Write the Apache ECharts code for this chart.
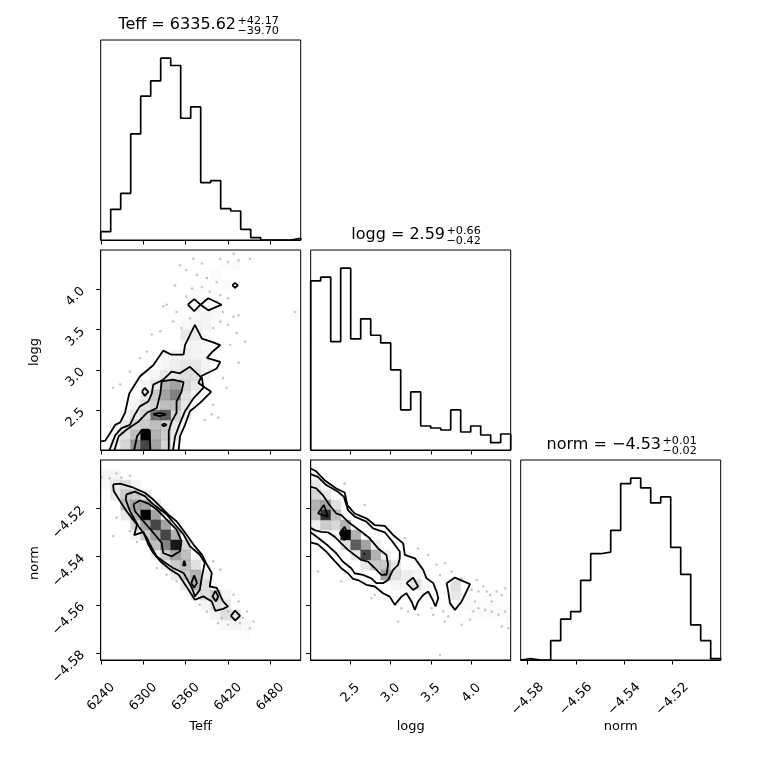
<!DOCTYPE html>
<html><head><meta charset="utf-8">
<script src="https://cdn.jsdelivr.net/npm/echarts@6.0.0/dist/echarts.min.js"></script>
<style>html,body{margin:0;padding:0;background:#fff}#c{width:760px;height:760px}</style>
</head><body><div id="c"></div>
<script>
// ---------- axis ranges and ticks ----------
const teffRange = [6239.5, 6523];
const loggRange = [2.009, 4.488];
const normRange = [-4.5829, -4.4999];
const teffTicks = [6240, 6300, 6360, 6420, 6480];
const loggTicks = [2.5, 3.0, 3.5, 4.0];
const normTicks = [-4.58, -4.56, -4.54, -4.52];

// ---------- titles ----------
const teffTitle = ['Teff = 6335.62', '+42.17', '\u221239.70'];
const loggTitle = ['logg = 2.59', '+0.66', '\u22120.42'];
const normTitle = ['norm = \u22124.53', '+0.01', '\u22120.02'];
const axisNames = ['Teff', 'logg', 'norm'];

// ---------- 1D histograms (20 bins each) ----------
const teffCounts = [25, 92, 140, 318, 431, 477, 545, 523, 365, 399, 172, 178, 94, 87, 32, 7, 0, 0, 0, 5];
const loggCounts = [507, 518, 325, 545, 333, 393, 344, 321, 240, 120, 174, 72, 66, 60, 120, 54, 72, 45, 22, 48];
const normCounts = [4, 0, 0, 58, 122, 145, 238, 318, 323, 388, 528, 544, 515, 470, 488, 337, 256, 105, 58, 4];

// ---------- Teff vs logg ----------
const tlDensity = [
[1,0,0.25],[2,0,0.4],[3,0,0.65],[4,0,0.85],[5,0,0.6],[6,0,0.4],[7,0,0.2],
[1,1,0.2],[2,1,0.35],[3,1,0.5],[4,1,1.0],[5,1,0.55],[6,1,0.45],[7,1,0.3],
[1,2,0.2],[2,2,0.3],[3,2,0.4],[4,2,0.45],[5,2,0.5],[6,2,0.45],[7,2,0.3],
[2,3,0.15],[3,3,0.3],[4,3,0.4],[5,3,0.75],[6,3,0.8],[7,3,0.4],[8,3,0.25],
[3,4,0.2],[4,4,0.35],[5,4,0.4],[6,4,0.5],[7,4,0.5],[8,4,0.3],
[4,5,0.3],[5,5,0.45],[6,5,0.6],[7,5,0.7],[8,5,0.35],[9,5,0.2],
[4,6,0.2],[5,6,0.3],[6,6,0.55],[7,6,0.6],[8,6,0.4],[9,6,0.3],
[5,7,0.2],[6,7,0.3],[7,7,0.3],[8,7,0.35],[9,7,0.35],[10,7,0.2],
[6,8,0.2],[7,8,0.25],[8,8,0.3],[9,8,0.3],[10,8,0.2],
[7,9,0.2],[8,9,0.25],[9,9,0.2],[10,9,0.2],
[8,10,0.2],[9,10,0.2],[10,10,0.15],
[8,11,0.3],[9,11,0.3],[10,11,0.15],
[8,12,0.15],[9,12,0.2],[10,12,0.2],
[9,13,0.15],[10,13,0.2],[11,13,0.15],[19,13,0.13],
[10,14,0.13],[9,15,0.13],[11,15,0.11],[10,16,0.11],[12,16,0.13],[11,17,0.13],[12,18,0.11],[13,18,0.13]
];
const tlContours = [
 [[6240,2.116],[6246,2.126],[6253,2.22],[6260,2.32],[6267,2.35],[6274,2.47],[6280,2.71],[6295,2.92],[6314,3.06],[6328,3.24],[6340,3.19],[6357,3.19],[6359,3.31],[6373,3.56],[6383,3.39],[6397,3.35],[6409,3.31],[6397,3.22],[6390,3.15],[6409,3.10],[6404,3.02],[6383,2.93],[6378,2.84],[6396,2.73],[6380,2.59],[6366,2.49],[6359,2.32],[6352,2.18],[6350,2.009]],
 [[6252,2.009],[6260,2.19],[6269,2.28],[6281,2.32],[6288,2.45],[6295,2.55],[6307,2.61],[6312,2.71],[6314,2.82],[6328,2.88],[6340,2.98],[6352,2.96],[6366,3.04],[6383,2.90],[6385,2.78],[6371,2.65],[6359,2.49],[6351,2.32],[6345,2.18],[6342,2.009]],
 [[6259,2.009],[6265,2.18],[6276,2.26],[6293,2.36],[6305,2.47],[6319,2.53],[6324,2.71],[6326,2.86],[6342,2.88],[6357,2.85],[6354,2.73],[6347,2.61],[6347,2.47],[6340,2.36],[6336,2.24],[6336,2.009]],
 [[6287,2.009],[6291,2.18],[6298,2.26],[6308,2.26],[6309,2.14],[6310,2.009]],
 [[6314,2.45],[6323,2.47],[6332,2.45],[6323,2.43],[6314,2.45]],
 [[6326,2.32],[6329,2.335],[6333,2.32],[6329,2.305],[6326,2.32]],
 [[6298,2.73],[6302,2.78],[6307,2.73],[6302,2.68],[6298,2.73]],
 [[6363,3.81],[6372,3.88],[6381,3.81],[6372,3.73],[6363,3.81]],
 [[6381,3.81],[6392,3.89],[6411,3.81],[6392,3.74],[6381,3.81]],
 [[6426,4.05],[6430,4.08],[6434,4.05],[6430,4.02],[6426,4.05]]
];
const tlPoints = [[6371,4.38],[6383,4.32],[6409,4.38],[6420,4.34],[6428,4.44],[6435,4.36],[6451,4.38],[6352,4.30],[6361,4.24],[6376,4.18],[6390,4.14],[6404,4.09],[6369,4.01],[6383,4.03],[6394,3.97],[6409,3.93],[6420,3.89],[6333,3.81],[6347,3.72],[6328,3.79],[6324,3.48],[6312,3.44],[6342,3.60],[6354,3.52],[6366,3.64],[6413,3.72],[6428,3.66],[6420,3.56],[6435,3.68],[6444,3.35],[6432,3.46],[6409,3.60],[6399,3.52],[6423,3.31],[6435,3.09],[6257,2.78],[6267,2.82],[6281,2.98],[6295,3.15],[6305,3.23],[6413,2.90],[6418,2.78],[6399,2.57],[6406,2.41],[6387,2.38],[6397,2.45],[6515,3.72],[6361,3.91],[6345,4.05],[6387,3.87],[6404,3.85]];

// ---------- Teff vs norm ----------
const tnDensity = [
[0,18,0.2],[1,18,0.2],[0,17,0.15],[1,17,0.3],[2,17,0.35],[3,17,0.2],
[1,16,0.3],[2,16,0.45],[3,16,0.45],[4,16,0.3],
[2,15,0.5],[3,15,0.6],[4,15,0.6],[5,15,0.3],
[2,14,0.3],[3,14,0.55],[4,14,1.0],[5,14,0.6],[6,14,0.2],
[3,13,0.4],[4,13,0.6],[5,13,0.85],[6,13,0.6],
[3,12,0.2],[4,12,0.45],[5,12,0.6],[6,12,0.85],[7,12,0.55],
[5,11,0.5],[6,11,0.7],[7,11,0.95],[8,11,0.4],
[5,10,0.25],[6,10,0.45],[7,10,0.6],[8,10,0.5],
[6,9,0.25],[7,9,0.45],[8,9,0.5],[9,9,0.35],
[7,8,0.3],[8,8,0.45],[9,8,0.55],[10,8,0.25],
[8,7,0.3],[9,7,0.55],[10,7,0.35],
[9,6,0.3],[10,6,0.35],[11,6,0.45],[12,6,0.2],
[10,5,0.2],[11,5,0.35],[12,5,0.3],
[11,4,0.2],[12,4,0.35],[13,4,0.3],
[12,3,0.15],[13,3,0.2],[14,3,0.15],[14,2,0.12]
];
const tnContours = [
 [[6257,-4.5100],[6267,-4.5097],[6286,-4.5114],[6302,-4.5135],[6314,-4.5163],[6328,-4.5204],[6335,-4.5225],[6347,-4.5253],[6361,-4.5308],[6371,-4.5350],[6383,-4.5392],[6390,-4.5433],[6397,-4.5468],[6394,-4.5524],[6404,-4.5530],[6413,-4.5586],[6420,-4.5607],[6413,-4.5617],[6402,-4.5625],[6397,-4.5586],[6385,-4.5565],[6373,-4.5579],[6361,-4.5524],[6350,-4.5475],[6338,-4.5454],[6324,-4.5419],[6314,-4.5385],[6307,-4.5350],[6300,-4.5297],[6287,-4.5311],[6291,-4.5267],[6276,-4.5211],[6267,-4.5170],[6258,-4.5128],[6257,-4.5100]],
 [[6276,-4.5142],[6288,-4.5130],[6302,-4.5149],[6314,-4.5183],[6333,-4.5225],[6347,-4.5274],[6357,-4.5308],[6366,-4.5357],[6380,-4.5392],[6387,-4.5426],[6383,-4.5482],[6380,-4.5538],[6373,-4.5565],[6369,-4.5530],[6357,-4.5468],[6342,-4.5447],[6328,-4.5419],[6319,-4.5399],[6312,-4.5364],[6305,-4.5322],[6293,-4.5274],[6281,-4.5211],[6275,-4.5163],[6276,-4.5142]],
 [[6286,-4.5183],[6295,-4.5167],[6307,-4.5180],[6319,-4.5204],[6333,-4.5246],[6347,-4.5288],[6354,-4.5336],[6352,-4.5378],[6340,-4.5399],[6328,-4.5385],[6326,-4.5343],[6314,-4.5301],[6300,-4.5253],[6288,-4.5211],[6286,-4.5183]],
 [[6358,-4.5417],[6360,-4.5436],[6358,-4.5440],[6356,-4.5436],[6358,-4.5417]],
 [[6372,-4.5478],[6376,-4.5510],[6372,-4.5528],[6368,-4.5510],[6372,-4.5478]],
 [[6402,-4.5542],[6406,-4.5565],[6403,-4.5586],[6398,-4.5565],[6402,-4.5542]],
 [[6424,-4.5646],[6430,-4.5624],[6437,-4.5646],[6430,-4.5665],[6424,-4.5646]]
];
const tnPoints = [[6241,-4.5070],[6252,-4.5075],[6262,-4.5055],[6269,-4.5072],[6281,-4.5065],[6257,-4.5315],[6291,-4.5339],[6399,-4.5419],[6409,-4.5454],[6428,-4.5558],[6435,-4.5586],[6447,-4.5628],[6451,-4.5697],[6437,-4.5676],[6420,-4.5683],[6411,-4.5655],[6390,-4.5628],[6380,-4.5600],[6347,-4.5503],[6333,-4.5475],[6319,-4.5447],[6281,-4.5295],[6262,-4.5239],[6441,-4.5655],[6456,-4.5669],[6420,-4.5628],[6406,-4.5676]];

// ---------- logg vs norm ----------
const lnDensity = [
[0,17,0.3],[0,16,0.4],[0,15,0.55],[0,14,0.5],[0,13,0.25],
[1,16,0.3],[1,15,0.6],[1,14,0.9],[1,13,0.45],
[2,15,0.35],[2,14,0.5],[2,13,0.4],[2,12,0.2],
[3,13,0.55],[3,12,1.0],[3,11,0.35],
[4,12,0.55],[4,11,0.8],[4,10,0.3],
[5,11,0.6],[5,10,0.85],[5,9,0.3],
[6,11,0.25],[6,10,0.55],[6,9,0.45],
[7,10,0.25],[7,9,0.45],[7,8,0.6],
[8,9,0.3],[8,8,0.35],[8,7,0.2],
[9,8,0.25],[9,7,0.2],
[10,8,0.2],[10,7,0.35],[11,7,0.18],[11,6,0.13],[12,6,0.11],
[13,6,0.13],[14,7,0.35],[14,6,0.3],[15,6,0.13],[15,5,0.13],[13,5,0.1],
[16,5,0.13],[17,5,0.1],[18,5,0.12],[19,5,0.1],[16,4,0.1],[17,4,0.12],[18,4,0.1],[19,4,0.12]
];
const lnContours = [
 [[2.009,-4.5034],[2.077,-4.5046],[2.181,-4.5083],[2.326,-4.5117],[2.430,-4.5134],[2.463,-4.5186],[2.554,-4.5221],[2.699,-4.5241],[2.803,-4.5269],[2.927,-4.5272],[3.030,-4.5310],[3.155,-4.5345],[3.176,-4.5393],[3.300,-4.5407],[3.403,-4.5455],[3.445,-4.5490],[3.528,-4.5510],[3.569,-4.5545],[3.590,-4.5572],[3.557,-4.5607],[3.520,-4.5579],[3.466,-4.5545],[3.403,-4.5559],[3.341,-4.5586],[3.300,-4.5621],[3.258,-4.5586],[3.196,-4.5552],[3.134,-4.5566],[3.051,-4.5600],[2.989,-4.5566],[2.906,-4.5552],[2.803,-4.5524],[2.699,-4.5517],[2.595,-4.5497],[2.533,-4.5492],[2.471,-4.5469],[2.388,-4.5448],[2.305,-4.5418],[2.202,-4.5379],[2.098,-4.5349],[2.009,-4.5341]],
 [[2.009,-4.5058],[2.098,-4.5069],[2.202,-4.5103],[2.347,-4.5131],[2.421,-4.5152],[2.471,-4.5207],[2.554,-4.5234],[2.699,-4.5255],[2.782,-4.5283],[2.927,-4.5299],[3.030,-4.5341],[3.113,-4.5379],[3.113,-4.5407],[3.093,-4.5434],[3.030,-4.5455],[2.968,-4.5497],[2.906,-4.5510],[2.823,-4.5510],[2.761,-4.5490],[2.657,-4.5476],[2.554,-4.5469],[2.512,-4.5448],[2.409,-4.5421],[2.326,-4.5386],[2.222,-4.5354],[2.119,-4.5327],[2.009,-4.5299]],
 [[2.009,-4.5110],[2.077,-4.5117],[2.160,-4.5145],[2.243,-4.5186],[2.326,-4.5221],[2.388,-4.5228],[2.471,-4.5255],[2.554,-4.5276],[2.637,-4.5297],[2.740,-4.5324],[2.844,-4.5366],[2.948,-4.5393],[2.968,-4.5434],[2.948,-4.5476],[2.885,-4.5476],[2.803,-4.5448],[2.720,-4.5421],[2.637,-4.5414],[2.554,-4.5393],[2.471,-4.5372],[2.388,-4.5345],[2.305,-4.5317],[2.222,-4.5299],[2.139,-4.5297],[2.057,-4.5290],[2.009,-4.5280]],
 [[2.098,-4.5221],[2.173,-4.5186],[2.222,-4.5234],[2.098,-4.5221]],
 [[2.367,-4.5303],[2.430,-4.5276],[2.479,-4.5317],[2.421,-4.5331],[2.367,-4.5303]],
 [[2.672,-4.5386],[2.678,-4.5380],[2.684,-4.5386],[2.678,-4.5392],[2.672,-4.5386]],
 [[2.921,-4.5469],[2.927,-4.5463],[2.933,-4.5469],[2.927,-4.5475],[2.921,-4.5469]],
 [[3.196,-4.5510],[3.279,-4.5487],[3.341,-4.5524],[3.279,-4.5538],[3.196,-4.5510]],
 [[3.694,-4.5510],[3.797,-4.5487],[3.984,-4.5514],[3.880,-4.5586],[3.797,-4.5621],[3.735,-4.5593],[3.714,-4.5545],[3.694,-4.5510]]
];
const lnPoints = [[3.176,-4.5324],[3.341,-4.5366],[3.466,-4.5393],[3.569,-4.5434],[3.673,-4.5428],[3.756,-4.5462],[3.611,-4.5476],[3.880,-4.5490],[4.004,-4.5538],[4.067,-4.5497],[4.087,-4.5545],[4.149,-4.5524],[4.191,-4.5545],[4.232,-4.5559],[4.315,-4.5545],[4.377,-4.5559],[4.419,-4.5531],[4.025,-4.5628],[4.087,-4.5614],[4.170,-4.5621],[4.253,-4.5628],[4.336,-4.5641],[4.419,-4.5628],[4.460,-4.5697],[4.377,-4.5690],[3.984,-4.5662],[3.880,-4.5683],[3.714,-4.5648],[3.652,-4.5628],[3.673,-4.5669],[3.528,-4.5641],[3.507,-4.5614],[3.341,-4.5641],[3.217,-4.5628],[3.093,-4.5669],[3.134,-4.5614],[2.761,-4.5572],[2.803,-4.5559],[2.098,-4.5462],[2.388,-4.5503],[3.611,-4.5807],[2.678,-4.5186],[2.430,-4.5097],[4.046,-4.5586],[4.253,-4.5586]];

// ---------- build ----------
const FONT = "'DejaVu Sans', 'Noto Sans', sans-serif";
const NBINS = 20;
const binCats = Array.from({length: NBINS}, (_, i) => String(i));
const panel = (r, c) => ({ left: 100.7 + 210 * c, top: 40 + 210 * r, width: 200, height: 200 });
const panels = [[0,0],[1,0],[1,1],[2,0],[2,1],[2,2],[1,0],[2,0],[2,1]];
const grid = panels.map((p, i) => Object.assign(panel(p[0], p[1]), {
  show: i < 6, borderColor: '#000', borderWidth: 1, backgroundColor: 'transparent',
  containLabel: false, outerBoundsMode: 'none', z: i < 6 ? 5 : 0
}));

const fmtTeff = v => String(Math.round(v));
const fmtLogg = v => Number(v).toFixed(1);
const fmtNorm = v => (v < 0 ? '\u2212' : '') + Math.abs(v).toFixed(2);

function xAx(gi, range, ticks, fmt, showLabel, margin) {
  return { gridIndex: gi, type: 'value', min: range[0], max: range[1], position: 'bottom', z: 6,
    axisLine: { show: true, onZero: false, lineStyle: { color: '#000', width: 1 } },
    axisTick: { show: true, length: 4.5, customValues: ticks, lineStyle: { color: '#000', width: 1 } },
    axisLabel: { show: showLabel, customValues: ticks, formatter: fmt, rotate: 45, align: 'center', verticalAlign: 'middle',
      margin: margin, fontSize: 13, fontFamily: FONT, color: '#000' },
    splitLine: { show: false } };
}
function yAx(gi, range, ticks, fmt, showLabel) {
  return { gridIndex: gi, type: 'value', min: range[0], max: range[1], position: 'left', z: 6,
    axisLine: { show: true, onZero: false, lineStyle: { color: '#000', width: 1 } },
    axisTick: { show: true, length: 4.5, customValues: ticks, lineStyle: { color: '#000', width: 1 } },
    axisLabel: { show: showLabel, customValues: ticks, formatter: fmt, rotate: 45, margin: 18,
      fontSize: 13, fontFamily: FONT, color: '#000' },
    splitLine: { show: false } };
}
function histY(gi, counts) {
  return { gridIndex: gi, type: 'value', min: 0, max: 1.1 * Math.max(...counts), show: false };
}
const catAx = gi => ({ gridIndex: gi, type: 'category', data: binCats, show: false });

const xAxis = [
  xAx(0, teffRange, teffTicks, fmtTeff, false, 37),
  xAx(1, teffRange, teffTicks, fmtTeff, false, 37),
  xAx(2, loggRange, loggTicks, fmtLogg, false, 33),
  xAx(3, teffRange, teffTicks, fmtTeff, true, 37),
  xAx(4, loggRange, loggTicks, fmtLogg, true, 33),
  xAx(5, normRange, normTicks, fmtNorm, true, 39),
  catAx(6), catAx(7), catAx(8)
];
const yAxis = [
  histY(0, teffCounts),
  yAx(1, loggRange, loggTicks, fmtLogg, true),
  histY(2, loggCounts),
  yAx(3, normRange, normTicks, fmtNorm, true),
  yAx(4, normRange, normTicks, fmtNorm, false),
  histY(5, normCounts),
  catAx(6), catAx(7), catAx(8)
];

function stepData(counts, range) {
  const w = (range[1] - range[0]) / counts.length;
  const d = [[range[0], 0]];
  counts.forEach((c, i) => d.push([range[0] + i * w, c]));
  d.push([range[1], counts[counts.length - 1]]);
  d.push([range[1], 0]);
  return d;
}

const series = [];
const heatIdx = [];
function addPanel(ai, hi, pts, dens, contours) {
  series.push({ type: 'scatter', xAxisIndex: ai, yAxisIndex: ai, data: pts, symbolSize: 2.6,
    itemStyle: { color: '#b9b9b9' }, z: 1, silent: true, animation: false });
  heatIdx.push(series.length);
  series.push({ type: 'heatmap', xAxisIndex: hi, yAxisIndex: hi, data: dens, z: 2, silent: true,
    itemStyle: { borderWidth: 0 }, animation: false, emphasis: { disabled: true } });
  contours.forEach(c => series.push({ type: 'line', xAxisIndex: ai, yAxisIndex: ai, data: c,
    symbol: 'none', showSymbol: false, lineStyle: { color: '#000', width: 1.8 }, z: 3, silent: true, animation: false }));
}
addPanel(1, 6, tlPoints, tlDensity, tlContours);
addPanel(3, 7, tnPoints, tnDensity, tnContours);
addPanel(4, 8, lnPoints, lnDensity, lnContours);

[[0, teffCounts, teffRange], [2, loggCounts, loggRange], [5, normCounts, normRange]].forEach(([ai, counts, range]) => {
  series.push({ type: 'line', xAxisIndex: ai, yAxisIndex: ai, data: stepData(counts, range), step: 'end',
    symbol: 'none', showSymbol: false, lineStyle: { color: '#000', width: 1.7 }, z: 3, silent: true, animation: false });
});

function txt(x, y, text, size, align, rot) {
  return { type: 'text', x: x, y: y, rotation: rot || 0, silent: true, z: 20,
    style: { text: text, font: size + 'px ' + FONT, fill: '#000', align: align, verticalAlign: 'middle' } };
}
function titleEls(t, split, ymid) {
  return [txt(split, ymid, t[0], 16, 'right'), txt(split + 1.5, ymid - 3.5, t[1], 11.2, 'left'), txt(split + 1.5, ymid + 6, t[2], 11.2, 'left')];
}
const graphic = [].concat(
  titleEls(teffTitle, 236, 25),
  titleEls(loggTitle, 445, 235),
  titleEls(normTitle, 661, 445),
  [txt(200.7, 727, axisNames[0], 13, 'center'), txt(410.7, 727, axisNames[1], 13, 'center'), txt(620.7, 727, axisNames[2], 13, 'center'),
   txt(35, 352, axisNames[1], 13, 'center', Math.PI / 2), txt(35, 563, axisNames[2], 13, 'center', Math.PI / 2)]
);

const chart = echarts.init(document.getElementById('c'), null, { renderer: 'canvas' });
chart.setOption({
  animation: false,
  backgroundColor: '#fff',
  grid: grid,
  xAxis: xAxis,
  yAxis: yAxis,
  visualMap: { show: false, type: 'continuous', min: 0, max: 1, dimension: 2, seriesIndex: heatIdx,
    inRange: { color: ['rgba(255,255,255,0)', 'rgba(0,0,0,1)'] } },
  graphic: graphic,
  series: series
});
</script></body></html>
